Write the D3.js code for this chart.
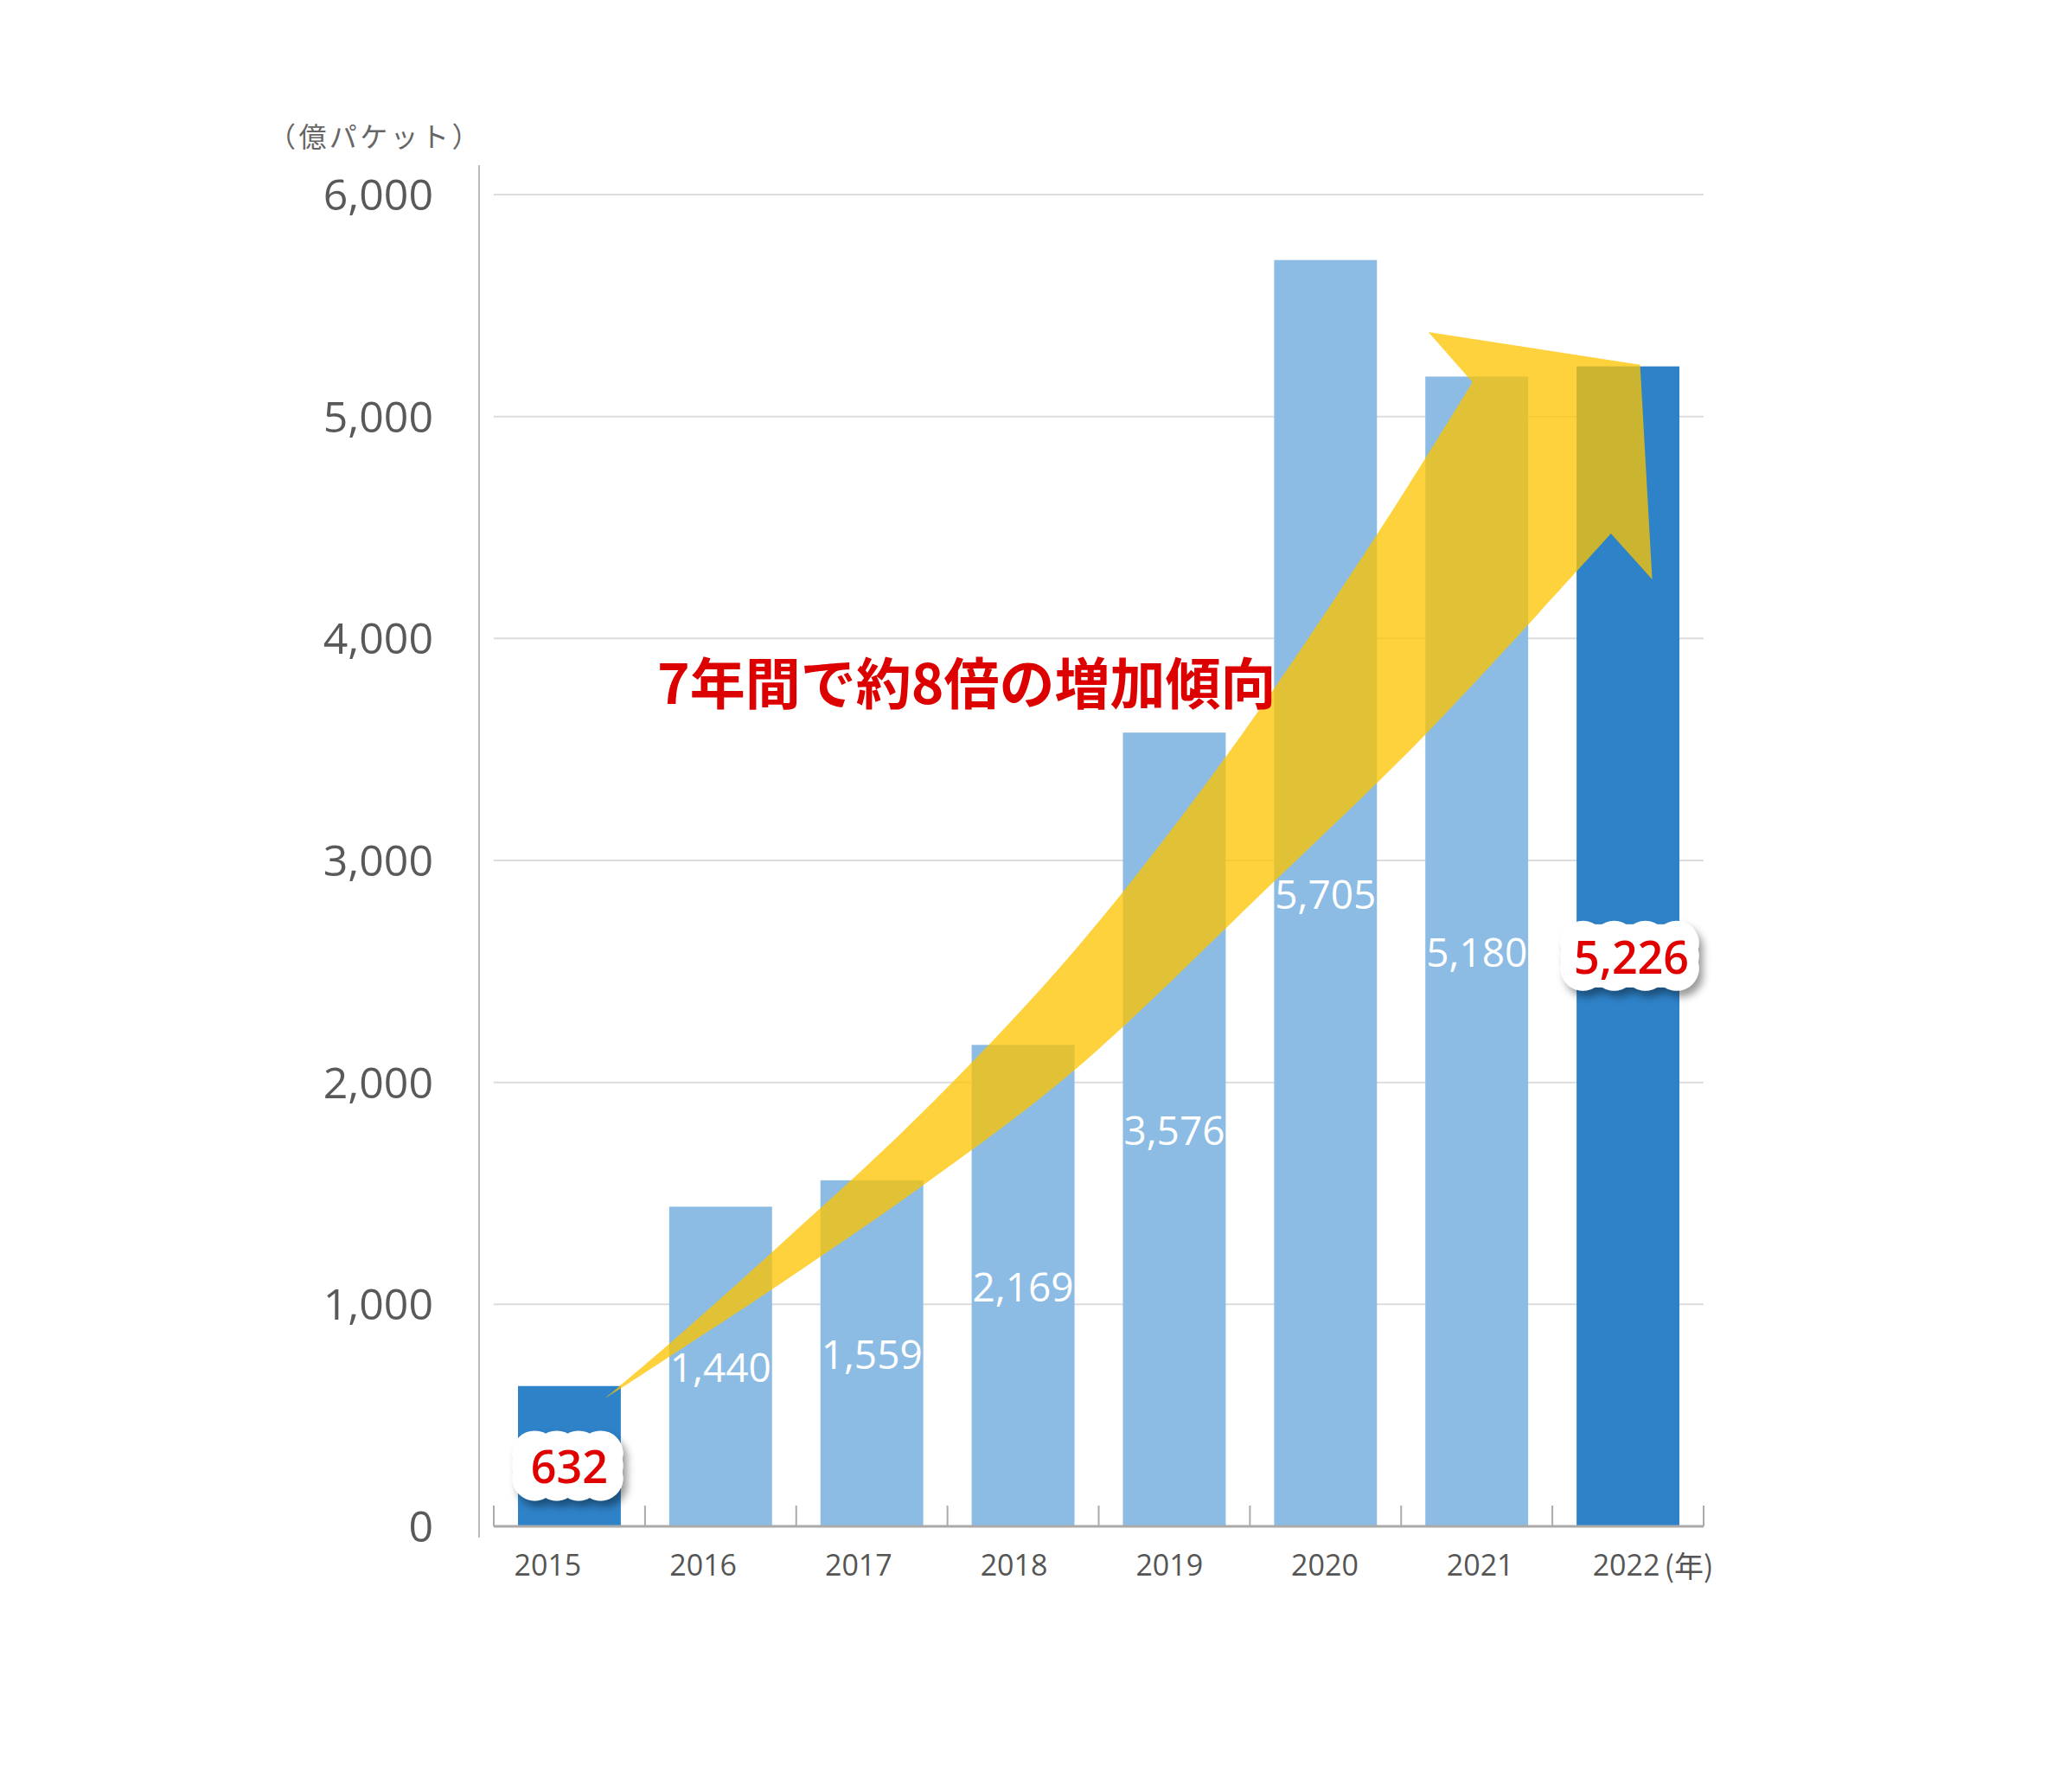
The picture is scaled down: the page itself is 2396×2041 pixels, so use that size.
<!DOCTYPE html>
<html><head><meta charset="utf-8">
<script src="https://cdn.jsdelivr.net/npm/d3@7"></script>
<style>
html,body{margin:0;padding:0;background:#fff;}
svg{display:block;}
</style></head>
<body>
<svg id="chart" width="2396" height="2041"></svg>
<script>
// ---- data ----
const years = ["2015","2016","2017","2018","2019","2020","2021","2022"];
const values = [632, 1440, 1559, 2169, 3576, 5705, 5180, 5226];
const highlighted = ["2015","2022"];
const yTicks = [0, 1000, 2000, 3000, 4000, 5000, 6000];
const yUnit = "（億パケット）";
const xUnit = "(年)";
const headline = "7年間で約8倍の増加傾向";
// arrow annotation in data units: [category index, value]
const arrowUpper = [[0.237,577],[0.66,822],[1.34,1235],[2.336,1866],[3.336,2591],[4.337,3464],[5.337,4465],[5.972,5155]];
const arrowHead = [[5.68,5381],[7.08,5233],[7.16,4266]];
const arrowLower = [[0.237,577],[1.34,1068],[2.336,1535],[3.336,2053],[4.663,2907],[5.663,3569],[6.887,4473]];

// ---- layout ----
const svg = d3.select("#chart");
const plotL = 571, plotR = 1970, plotT = 225, plotB = 1765;
const y = d3.scaleLinear().domain([0, 6000]).range([plotB, plotT]);
const x = d3.scaleBand().domain(years).range([plotL, plotR]).paddingInner(0.32).paddingOuter(0.16);
const bw = x.bandwidth(), step = x.step();
const xc = d => x(d) + bw/2;
const xi = d3.scaleLinear().domain([0, 1]).range([xc(years[0]), xc(years[0]) + step]);
const lastYear = years[years.length-1];
const labelX = d3.scalePoint().domain(years.slice(0, -1)).range([xc(years[0]) - 25, xc(years[years.length-2]) + 4]);
const yearX = d => d === lastYear ? xc(d) - 2 : labelX(d);

const numFont = "'Open Sans', 'Noto Sans', sans-serif";
const jpFont = "'Noto Sans CJK JP', 'Noto Sans', sans-serif";

const defs = svg.append("defs");
const f = defs.append("filter").attr("id","shadow").attr("x","-30%").attr("y","-30%").attr("width","160%").attr("height","180%");
f.append("feDropShadow").attr("dx",5).attr("dy",7).attr("stdDeviation",5).attr("flood-color","#000").attr("flood-opacity",0.4);

// gridlines
svg.append("g").selectAll("line").data(yTicks.filter(d => d > 0)).join("line")
  .attr("x1", plotL).attr("x2", plotR)
  .attr("y1", d => y(d)).attr("y2", d => y(d))
  .attr("stroke", "#dcdcdc").attr("stroke-width", 2);

// y tick labels
svg.append("g").selectAll("text").data(yTicks).join("text")
  .attr("x", 501).attr("y", d => y(d) - 1)
  .attr("text-anchor", "end").attr("dominant-baseline", "central")
  .attr("font-family", numFont).attr("font-size", 50).attr("fill", "#595959")
  .text(d => d3.format(",")(d));

// y unit
svg.append("text").attr("x", 310).attr("y", 156)
  .attr("dominant-baseline", "central")
  .attr("font-family", jpFont).attr("font-size", 32).attr("letter-spacing", 3.4).attr("fill", "#666")
  .text(yUnit);

// y axis line
svg.append("line").attr("x1", 554).attr("x2", 554).attr("y1", 191).attr("y2", 1778)
  .attr("stroke", "#bbb").attr("stroke-width", 2);

// bars
svg.append("g").selectAll("rect").data(years).join("rect")
  .attr("x", d => x(d)).attr("width", bw)
  .attr("y", (d,i) => y(values[i])).attr("height", (d,i) => plotB - y(values[i]))
  .attr("fill", d => highlighted.includes(d) ? "#2e82c8" : "#8cbce4");

// arrow
const curve = d3.line().x(d => xi(d[0])).y(d => y(d[1])).curve(d3.curveCatmullRom.alpha(0.5));
const upPath = curve(arrowUpper);
const headPath = arrowHead.map(d => "L" + xi(d[0]) + "," + y(d[1])).join("");
const lowPath = curve(arrowLower.slice().reverse()).replace(/^M/, "L");
svg.append("path").attr("d", upPath + headPath + lowPath + "Z")
  .attr("fill", "#fdc400").attr("fill-opacity", 0.76);

// axis baseline and ticks
const ax = svg.append("g");
ax.append("line").attr("x1", plotL).attr("x2", plotR).attr("y1", plotB).attr("y2", plotB)
  .attr("stroke", "#aaa").attr("stroke-width", 3);
ax.selectAll("line.tk").data(d3.range(years.length + 1)).join("line").attr("class","tk")
  .attr("x1", i => plotL + i*step).attr("x2", i => plotL + i*step)
  .attr("y1", plotB).attr("y2", plotB - 24)
  .attr("stroke", "#aaa").attr("stroke-width", 2);

// year labels
svg.append("g").selectAll("text").data(years).join("text")
  .attr("x", d => yearX(d)).attr("y", 1809)
  .attr("text-anchor", "middle").attr("dominant-baseline", "central")
  .attr("font-family", numFont).attr("font-size", 34).attr("fill", "#555")
  .text(d => d);
svg.append("text").attr("x", yearX(lastYear) + 44).attr("y", 1809)
  .attr("dominant-baseline", "central")
  .attr("font-family", jpFont).attr("font-size", 34).attr("fill", "#555")
  .text(xUnit);

// white value labels
svg.append("g").selectAll("text").data(years.filter(d => !highlighted.includes(d))).join("text")
  .attr("x", d => xc(d))
  .attr("y", d => y(values[years.indexOf(d)] / 2))
  .attr("text-anchor", "middle").attr("dominant-baseline", "central")
  .attr("font-family", numFont).attr("font-size", 46).attr("font-weight", 500).attr("fill", "#fff")
  .text(d => d3.format(",")(values[years.indexOf(d)]));

// cloud labels
function cloud(g, cx, cy, w, h) {
  const R = h * 0.32;
  const x0 = cx - w/2, x1 = cx + w/2, y0 = cy - h/2, y1 = cy + h/2;
  const grp = g.append("g").attr("filter", "url(#shadow)");
  grp.append("rect").attr("x", x0 + R*0.6).attr("y", y0 + R).attr("width", w - 1.2*R).attr("height", h - 2*R).attr("fill", "#fff");
  const n = 4;
  for (let k = 0; k < n; k++) {
    const px = x0 + R + k * (w - 2*R) / (n - 1);
    grp.append("circle").attr("cx", px).attr("cy", y0 + R).attr("r", R).attr("fill", "#fff");
    grp.append("circle").attr("cx", px).attr("cy", y1 - R).attr("r", R).attr("fill", "#fff");
  }
  grp.append("rect").attr("x", x0 + R).attr("y", y0 + 4).attr("width", w - 2*R).attr("height", h - 8).attr("fill", "#fff");
  grp.append("ellipse").attr("cx", x0 + h*0.42).attr("cy", cy).attr("rx", h*0.42).attr("ry", h*0.44).attr("fill", "#fff");
  grp.append("ellipse").attr("cx", x1 - h*0.42).attr("cy", cy).attr("rx", h*0.42).attr("ry", h*0.44).attr("fill", "#fff");
}
const cg = svg.append("g");
highlighted.forEach(d => {
  const i = years.indexOf(d);
  const label = d3.format(",")(values[i]);
  const long = label.length > 3;
  const shift = long ? 4 : 0;
  const cx = xc(d) - 2 + shift;
  const cy = y(values[i] / 2) + 11;
  cloud(cg, cx, cy, long ? 160 : 128, 81);
  cg.append("text").attr("x", xc(d) + shift).attr("y", cy)
    .attr("text-anchor", "middle").attr("dominant-baseline", "central")
    .attr("font-family", numFont).attr("font-size", 52).attr("font-weight", 600).attr("fill", "#e00000")
    .text(label);
});

// headline
svg.append("text").attr("x", 760).attr("y", 786)
  .attr("dominant-baseline", "central")
  .attr("font-family", jpFont).attr("font-size", 64).attr("font-weight", 700)
  .attr("fill", "#dd0000")
  .text(headline);
</script>
</body></html>
